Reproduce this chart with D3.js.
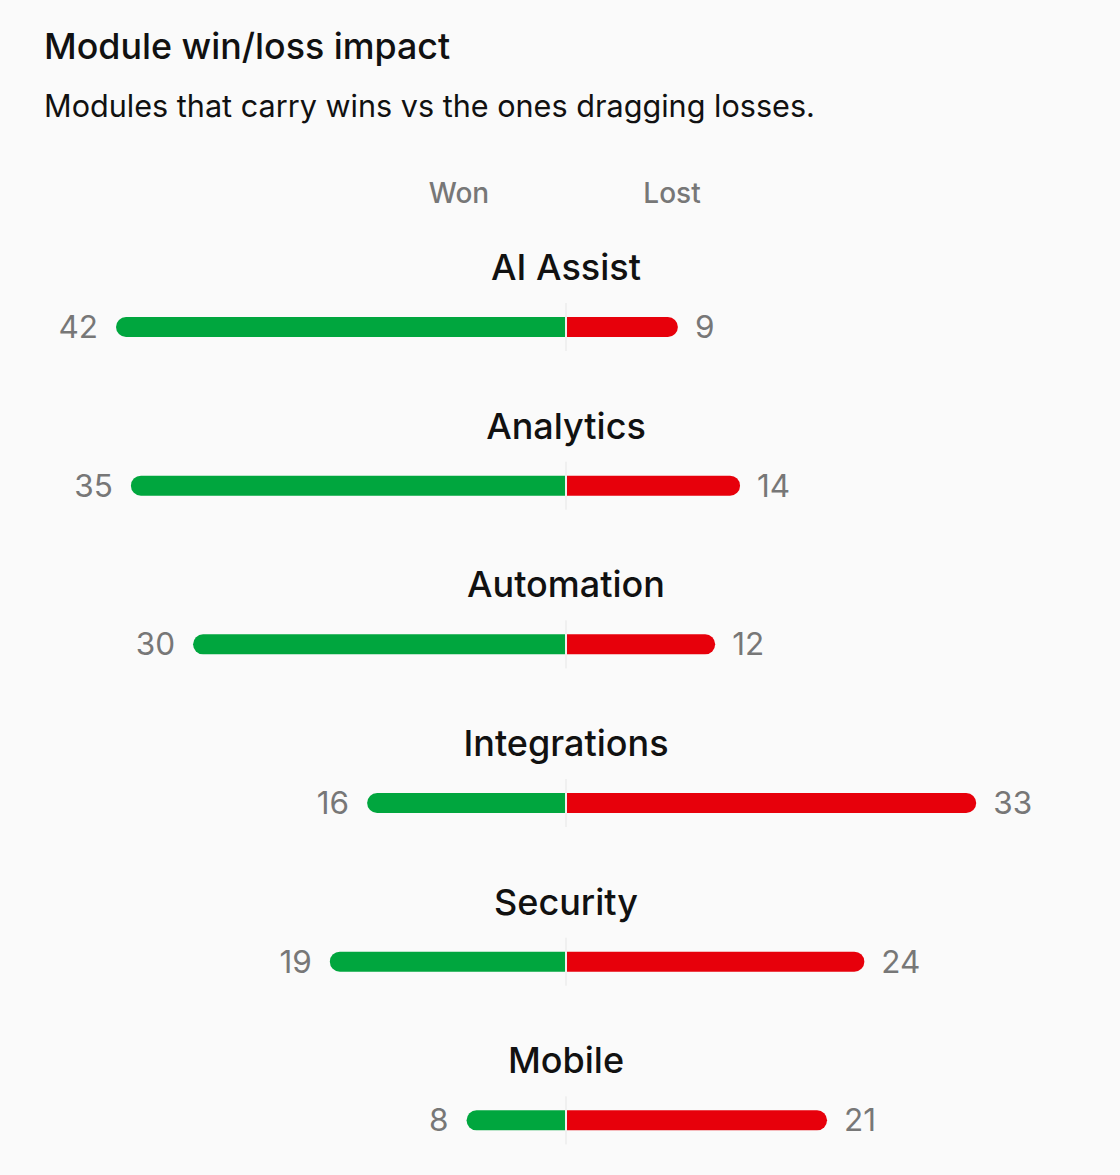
<!DOCTYPE html>
<html>
<head>
<meta charset="utf-8">
<script src="https://cdn.jsdelivr.net/npm/d3@7"></script>
<style>
  body { margin: 0; background: #fafafa; font-family: Inter, "Noto Sans", sans-serif; }
  svg { display: block; }
</style>
</head>
<body>
<svg id="chart" width="1120" height="1175"></svg>
<script>
// data
var modules = ['AI Assist', 'Analytics', 'Automation', 'Integrations', 'Security', 'Mobile'];
var wonValues = [42, 35, 30, 16, 19, 8];
var lostValues = [9, 14, 12, 33, 24, 21];
var sideLabels = ['Won', 'Lost'];

var centerX = 566;
var barH = 20;

document.addEventListener('DOMContentLoaded', function() {
  var svg = d3.select('#chart');

  svg.append('text')
    .attr('x', 44).attr('y', 59)
    .style('font-size', '35.8px').style('font-weight', 500)
    .style('fill', '#111')
    .text('Module win/loss impact');
  svg.append('text')
    .attr('x', 44).attr('y', 117)
    .style('font-size', '30.6px')
    .style('fill', '#111')
    .text('Modules that carry wins vs the ones dragging losses.');

  // one shared length scale, clamped so the longest bar stays inside the frame
  var lenScale = d3.scaleLinear().domain([0, 36.2]).range([0, 450]).clamp(true);

  var yScale = d3.scaleBand()
    .domain(modules)
    .range([248, 1200])
    .paddingInner(0);

  svg.selectAll('.side')
    .data(sideLabels)
    .enter().append('text')
    .attr('class', 'side')
    .attr('x', (d, i) => i === 0 ? centerX - 107 : centerX + 106)
    .attr('y', 203)
    .attr('text-anchor', 'middle')
    .style('font-size', '28px').style('font-weight', 500)
    .style('fill', '#777')
    .text(d => d);

  var rows = svg.selectAll('.row')
    .data(modules)
    .enter().append('g')
    .attr('class', 'row')
    .attr('transform', d => `translate(0,${yScale(d) + 79})`);

  // thin divider at the center
  rows.append('line')
    .attr('x1', centerX).attr('x2', centerX)
    .attr('y1', -barH / 2 - 14).attr('y2', barH / 2 + 14)
    .style('stroke', '#e6e6e6').style('stroke-width', 1);

  rows.append('text')
    .attr('x', centerX).attr('y', -47)
    .attr('text-anchor', 'middle')
    .style('font-size', '36px').style('font-weight', 500)
    .style('fill', '#111')
    .text(d => d);

  // bar path with rounded outer end only
  function halfBar(len, dir) {
    var r = barH / 2;
    var p = d3.path();
    var x0 = centerX + dir;
    var x1 = centerX + dir * len;
    p.moveTo(x0, -r);
    p.lineTo(x1 - dir * r, -r);
    p.arc(x1 - dir * r, 0, r, -Math.PI / 2, Math.PI / 2, dir < 0);
    p.lineTo(x0, r);
    p.closePath();
    return p.toString();
  }

  rows.append('path')
    .attr('d', (d, i) => halfBar(lenScale(wonValues[i]), -1))
    .style('fill', '#00a63e');
  rows.append('path')
    .attr('d', (d, i) => halfBar(lenScale(lostValues[i]), 1))
    .style('fill', '#e7000b');

  rows.append('text')
    .attr('x', (d, i) => centerX - lenScale(wonValues[i]) - 18)
    .attr('y', 11)
    .attr('text-anchor', 'end')
    .style('font-size', '31.5px')
    .style('fill', '#777')
    .text((d, i) => wonValues[i]);
  rows.append('text')
    .attr('x', (d, i) => centerX + lenScale(lostValues[i]) + 17)
    .attr('y', 11)
    .attr('text-anchor', 'start')
    .style('font-size', '31.5px')
    .style('fill', '#777')
    .text((d, i) => lostValues[i]);
});
</script>
</body>
</html>
